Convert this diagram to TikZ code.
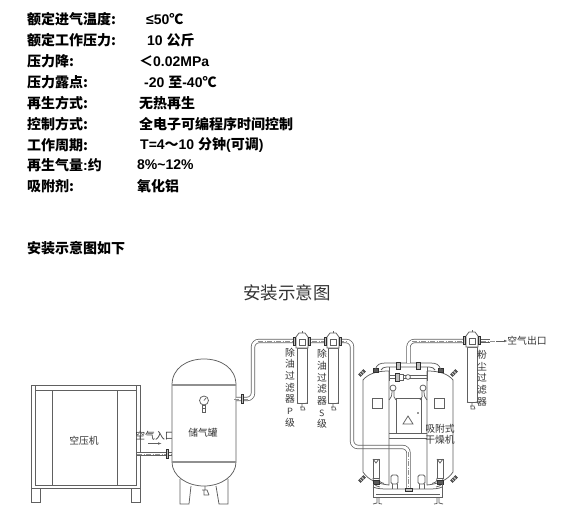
\documentclass[tikz,border=0pt]{standalone}
\usepackage{fontspec}
\usetikzlibrary{arrows.meta}
\setmainfont{Liberation Sans}
\newfontfamily\zhf{Noto Sans CJK SC}
\newcommand{\zh}[1]{{\zhf #1}}
\definecolor{ln}{HTML}{606060}
\definecolor{lnd}{HTML}{303030}
\definecolor{lbl}{HTML}{333333}
\tikzset{
  spec/.style={anchor=west,inner sep=0pt,font=\fontsize{14}{15}\selectfont\bfseries,text=black},
  part/.style={draw=ln,line width=.75pt},
  band/.style={draw=ln!70,line width=1.2pt},
  pipe/.style={draw=ln,line width=.75pt,double=white,double distance=2.8pt,rounded corners=6pt},
  axisline/.style={draw=ln!70,line width=.5pt,dash pattern=on 5pt off 1.5pt on 1pt off 1.5pt},
  lab/.style={inner sep=0pt,text=lbl,font=\fontsize{9.8}{10}\selectfont\zhf},
  vlab/.style={lab,align=center},
  flange/.style={draw=lnd,line width=.8pt,fill=ln!40},
  darkblock/.style={draw=lnd,fill=lnd!80,line width=.3pt},
  pics/filterunit/.style={code={
    \draw[part,fill=white] (-5,16) rectangle (5,71);
    \draw[part,fill=white] (-5,71) -- (-3,71.5) -- (3,71.5) -- (5,71);
    \draw[part,fill=white] (-6,5) -- (-3,1) -- (3,1) -- (6,5) -- (6,16) -- (-6,16) -- cycle;
    \draw[part] (-3,7) rectangle (3,13);
    \draw[part] (0,-1) -- (0,1);
    \draw[flange] (-8.5,5) rectangle (-6.5,13);
    \draw[flange] (6.5,5) rectangle (8.5,13);
    \draw[part] (0,71.5) -- (0,75) (-2,75) -- (2,75) -- (3,78) (-1,75) -- (-1,78) -- (3,78);
  }},
  pics/diagvalve/.style={code={
    \draw[darkblock,rotate=45] (-3.5,-1.5) rectangle (3.5,1.5);
    \draw[draw=white,line width=.5pt,rotate=45] (-1.5,-1.5) -- (-1.5,1.5) (1,-1.5) -- (1,1.5);
  }},
  pics/dryerhalf/.style={code={
    % tower
    \draw[part] (-19,371) .. controls (-32,371) and (-40,374) .. (-45,380) -- (-45,472)
       .. controls (-40,480) and (-30,484) .. (-19,485) -- (-19,371);
    \draw[part] (-36,398) rectangle (-26,408);
    % upper block
    \draw[darkblock] (-35,368.5) rectangle (-30,372.5);
    \pic at (-46,373) {diagvalve};
    \pic at (-46,479) {diagvalve};
    % gauge
    \draw[part,fill=white] (-15,388) circle (3);
    \draw[part] (-16,391) .. controls (-16,396) and (-17,398) .. (-19,400);
    \draw[part] (-14,391) .. controls (-14,396) and (-15,398) .. (-12,400);
    % side tube
    \draw[part] (-35,459) rectangle (-29,478);
    \draw[part] (-35,459) -- (-32,463) -- (-29,459);
    \draw[part] (-35,478) .. controls (-35,484) and (-33,486) .. (-28,487);
    \draw[part] (-29,478) .. controls (-29,482) and (-27,483) .. (-24,483.5);
    \draw[darkblock] (-35,480) rectangle (-29,484);
    % silencer
    \draw[part,fill=white,rounded corners=1.5pt] (-17,475) rectangle (-10,484);
    \draw[part] (-16,484) -- (-16,489) (-11,484) -- (-11,489);
    % foot
    \draw[part] (-31,497) -- (-31,503) -- (-35,504) (-29,497) -- (-29,503.5) -- (-26,504);
  }},
}
\begin{document}
\begin{tikzpicture}[x=1pt,y=-1pt]
\useasboundingbox[fill=white] (0,0) rectangle (565,524);

% --- specification text ---
\node[spec] (a1) at (27,19) {\zh{额定进气温度:}};
\node[spec] (b1) at (146,19) {≤50\zh{℃}};
\node[spec] (a2) at (27,40) {\zh{额定工作压力:}};
\node[spec] (b2) at (147,40) {10 \zh{公斤}};
\node[spec] (a3) at (27,61) {\zh{压力降:}};
\node[spec] (b3) at (139,61) {\zh{＜}0.02MPa};
\node[spec] (a4) at (27,82) {\zh{压力露点:}};
\node[spec] (b4) at (144,82) {-20 \zh{至}-40\zh{℃}};
\node[spec] (a5) at (27,103) {\zh{再生方式:}};
\node[spec] (b5) at (139,103) {\zh{无热再生}};
\node[spec] (a6) at (27,124) {\zh{控制方式:}};
\node[spec] (b6) at (139,124) {\zh{全电子可编程序时间控制}};
\node[spec] (a7) at (27,145) {\zh{工作周期:}};
\node[spec] (b7) at (140,145) {T=4\zh{～}10 \zh{分钟}(\zh{可调})};
\node[spec] (a8) at (27,165) {\zh{再生气量}:\zh{约}};
\node[spec] (b8) at (137,165) {8\%\textasciitilde12\%};
\node[spec] (a9) at (27,186) {\zh{吸附剂:}};
\node[spec] (b9) at (137,186) {\zh{氧化铝}};
\node[spec] (a10) at (27,248) {\zh{安装示意图如下}};
\node[inner sep=0pt,text=lbl,font=\fontsize{17.5}{18}\selectfont\zhf] (title) at (287,293) {安装示意图};

% --- compressor ---
\draw[part] (31,385) rectangle (140,488);
\draw[part] (35,385) -- (35,485) -- (136,485) -- (136,385);
\draw[part] (35,390) -- (136,390);
\draw[part] (52,390) -- (52,485) (117,390) -- (117,485);
\draw[part] (31,488) -- (31,502) -- (40.5,502) -- (40.5,488);
\draw[part] (131,488) -- (131,502) -- (140,502) -- (140,488);
\node[lab] (comp) at (84,441) {空压机};

% --- air inlet ---
\coordinate (inL) at (137,454);
\coordinate (inR) at (172,454);
\draw[pipe] (inL) -- (inR);
\draw[axisline] (137,454) -- (176,454);
\draw[flange] (166,449) rectangle (168,458);
\node[lab] (inlab) at (155,436) {空气入口};
\coordinate (ar1) at (148,443.5);
\coordinate (ar2) at (162,443.5);
\draw[part,-{Latex[length=4pt,width=2.5pt]}] (ar1) -- (ar2);

% --- tank ---
\draw[part] (180,479) -- (180,504) -- (189,504) -- (191,486);
\draw[part] (228,479) -- (228,504) -- (219,504) -- (216,486);
\draw[part,fill=white] (172,385) .. controls (172,368) and (187,359) .. (204,359)
   .. controls (221,359) and (236,368) .. (236,385) -- (236,462)
   .. controls (236,476) and (221,486) .. (204,486)
   .. controls (187,486) and (172,476) .. (172,462) -- cycle;
\draw[band] (172,385) -- (236,385) (172,462) -- (236,462);
\node[lab] (tank) at (203,433) {储气罐};
\draw[part,fill=white] (204,400.5) circle (4.5);
\draw[part] (204,400.5) -- (206,398);
\draw[part] (202.5,405) rectangle (205.5,412);
\draw[part] (202,408) -- (206,408);
\draw[part] (205,486) -- (205,490) (202,490) -- (207,490) -- (209,495) (204,490) -- (204,495) -- (209,495);

% --- pipe: tank to filters to dryer ---
\coordinate (t1) at (234,399);
\coordinate (t2) at (253,399);
\coordinate (t3) at (253,341);
\coordinate (t4) at (352,341);
\coordinate (t5) at (352,447);
\coordinate (t6) at (408.5,447);
\coordinate (t7) at (408.5,490);
\draw[pipe] (236,399) -- (t2) -- (t3) -- (t4) -- (t5) -- (t6) -- (t7);
\draw[axisline] (t1) -- (248,399);
\draw[axisline] (258,341) -- (348,341);
\draw[axisline] (408.5,452) -- (t7);
\draw[flange] (241,394) rectangle (243,403);

% --- filters ---
\pic at (302,332) {filterunit};
\pic at (333,332) {filterunit};
\node[vlab] (pf) at (290,387.5) {除\\[1.7pt]油\\[1.7pt]过\\[1.7pt]滤\\[1.7pt]器\\[1.7pt]{\fontsize{9}{9}\selectfont\sffamily P}\\[1.7pt]级};
\node[vlab] (sf) at (322,389) {除\\[1.7pt]油\\[1.7pt]过\\[1.7pt]滤\\[1.7pt]器\\[1.7pt]{\fontsize{9}{9}\selectfont\sffamily S}\\[1.7pt]级};

% --- dryer ---
\pic at (408,0) {dryerhalf};
\pic[xscale=-1] at (408,0) {dryerhalf};
\draw[part] (396,398) rectangle (421,433);
\draw[part] (389,433) -- (427,433) (389,438) -- (427,438);
\draw[part] (389,367) -- (389,381) (427,367) -- (427,381);
\draw[part] (403,424) -- (408,416) -- (413,424) -- cycle;
\fill[lnd] (418,413) circle (.8);
% upper manifold
\draw[part] (375,370) .. controls (377,364) and (380,363) .. (386,363) -- (430,363) .. controls (436,363) and (439,364) .. (441,370);
\draw[part] (381,370) .. controls (382,368) and (384,367) .. (387,367) -- (429,367) .. controls (432,367) and (434,368) .. (435,370);
\draw[part] (389,375.5) -- (427,375.5) (389,378.5) -- (427,378.5);
\draw[flange] (396,362) rectangle (400,369.5);
\draw[flange] (416,362) rectangle (420,369.5);
\draw[flange] (395,373) rectangle (399,381);
\draw[part,fill=white] (399,374) rectangle (403,380);
\draw[part,fill=white] (408,377) circle (2.4);
% frame
\draw[part] (373,484) -- (373,497) -- (442,497) -- (442,484);
\draw[part] (373,487) .. controls (378,489) and (382,489) .. (390,489) -- (426,489) .. controls (434,489) and (438,489) .. (442,487);
\draw[part] (376,494) -- (440,494);
\draw[flange] (405,488) rectangle (412,491);

% --- outlet pipe and dust filter ---
\coordinate (o1) at (408.5,363);
\coordinate (o2) at (408.5,341);
\coordinate (o3) at (464,341);
\draw[pipe] (o1) -- (o2) -- (o3);
\draw[axisline] (412,341) -- (462,341);
\pic at (472,331) {filterunit};
\draw[part,double=white,double distance=2.8pt] (481,341) -- (490,341);
\draw[axisline] (481,341) -- (495,341);
\coordinate (ar3) at (496,341);
\coordinate (ar4) at (508,341);
\draw[part,-{Latex[length=4pt,width=2.5pt]}] (ar3) -- (ar4);
\node[lab] (outlab) at (527,341) {空气出口};
\node[vlab] (df) at (482,378) {粉\\[1.7pt]尘\\[1.7pt]过\\[1.7pt]滤\\[1.7pt]器};
\node[lab] (dry1) at (440,429) {吸附式};
\node[lab] (dry2) at (440,440) {干燥机};
\end{tikzpicture}
\end{document}
